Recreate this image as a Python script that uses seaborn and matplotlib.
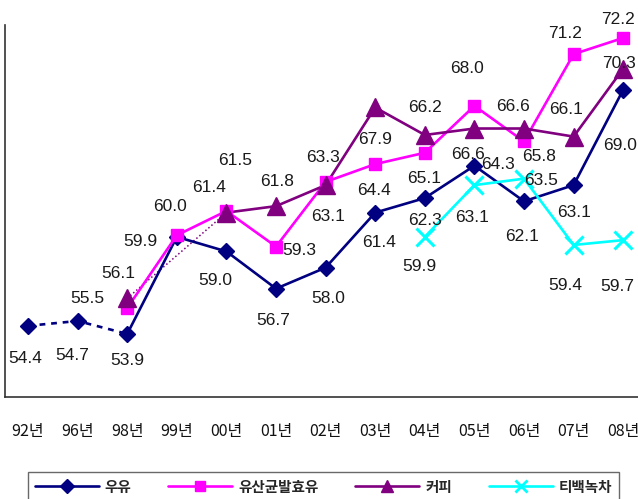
import numpy as np
import pandas as pd
import seaborn as sns
import matplotlib.pyplot as plt
from matplotlib.lines import Line2D

# ---- data ----
years = ["92년", "96년", "98년", "99년", "00년", "01년", "02년",
         "03년", "04년", "05년", "06년", "07년", "08년"]
milk = [54.4, 54.7, 53.9, 59.9, 59.0, 56.7, 58.0, 61.4, 62.3, 64.3, 62.1, 63.1, 69.0]
yogurt = [np.nan, np.nan, 55.5, 60.0, 61.5, 59.3, 63.3, 64.4, 65.1, 68.0, 65.8, 71.2, 72.2]
coffee = [np.nan, np.nan, 56.1, np.nan, 61.4, 61.8, 63.1, 67.9, 66.2, 66.6, 66.6, 66.1, 70.3]
greentea = [np.nan] * 8 + [59.9, 63.1, 63.5, 59.4, 59.7]
series_names = ["우유", "유산균발효유", "커피", "티백녹차"]

# label offsets in pixels (dx right, dy down), one per point
milk_off = [(-3, 33), (-5, 35), (0, 27), (-36, 5), (-11, 29), (-3, 32), (3, 31),
            (4, 30), (0, 22), (24, -1), (-2, 35), (0, 27), (-3, 56)]
yogurt_off = [None, None, (-40, -10), (-7, -29), (9, -50), (23, 4), (-3, -24),
              (-1, 26), (-1, 26), (-7, -37), (15, 15), (-9, -21), (-5, -18)]
coffee_off = [None, None, (-9, -25), None, (-17, -25), (1, -25), (2, 31),
              (0, 32), (0, -27), (-6, 26), (-11, -22), (-8, -27), (-4, -5)]
tea_off = [None] * 8 + [(-5, 30), (-2, 32), (17, 2), (-8, 41), (-6, 46)]

colors = {"우유": "#000080", "유산균발효유": "#FF00FF", "커피": "#800080", "티백녹차": "#00FFFF"}
markers = {"우유": "D", "유산균발효유": "s", "커피": "^", "티백녹차": "x"}
msizes = {"우유": 8, "유산균발효유": 8, "커피": 13, "티백녹차": 13}
leg_msizes = {"우유": 7, "유산균발효유": 6.5, "커피": 9, "티백녹차": 9}

x = np.arange(len(years))
df = pd.DataFrame({"x": x, "우유": milk, "유산균발효유": yogurt,
                   "커피": coffee, "티백녹차": greentea})

sns.set_theme(style="white")
plt.rcParams["font.family"] = ["Liberation Sans", "DejaVu Sans"]

fig = plt.figure(figsize=(6.38, 4.99), dpi=100)
ax = fig.add_axes([5 / 638, 102 / 499, 640 / 638, 372 / 499])

lw = 1.9

# dashed connector for early milk years, dotted connector for coffee 98->00
early = df[df["x"] <= 2]
sns.lineplot(x=early["x"], y=early["우유"], ax=ax, color=colors["우유"],
             lw=lw, linestyle=(0, (2.2, 2.2)), sort=False, legend=False)
cof = df[["x", "커피"]].dropna()
sns.lineplot(x=cof["x"].iloc[:2], y=cof["커피"].iloc[:2], ax=ax, color=colors["커피"],
             lw=1.1, linestyle=(0, (1, 1.6)), sort=False, legend=False)

segments = {
    "우유": df[df["x"] >= 2][["x", "우유"]],
    "유산균발효유": df[["x", "유산균발효유"]].dropna(),
    "커피": cof.iloc[1:],
    "티백녹차": df[["x", "티백녹차"]].dropna(),
}
for name in series_names:
    seg = segments[name]
    sns.lineplot(x=seg["x"], y=seg[name], ax=ax, color=colors[name], lw=lw,
                 sort=False, legend=False)

# markers on all points
for name in series_names:
    seg = df[["x", name]].dropna()
    mew = 2.2 if name == "티백녹차" else 1
    ax.plot(seg["x"], seg[name], linestyle="none", marker=markers[name],
            ms=msizes[name], color=colors[name], mec=colors[name], mew=mew, zorder=4)

# data labels
for vals, offs in [(milk, milk_off), (yogurt, yogurt_off),
                   (coffee, coffee_off), (greentea, tea_off)]:
    for xi, v, o in zip(x, vals, offs):
        if o is None or np.isnan(v):
            continue
        ax.annotate(f"{v:.1f}", (xi, v), xytext=(o[0], -o[1]),
                    textcoords="offset pixels", ha="center", va="center",
                    fontsize=12.5, color="#1a1a1a", zorder=6)

ax.set_xlim(-0.464, -0.464 + 640 / 49.6)
ax.set_ylim(50, 73)
ax.set_yticks([])
ax.set_xticks(x)
ax.set_xticklabels(years, family=["Noto Sans CJK KR", "DejaVu Sans"],
                   fontsize=11.5, color="#111111")
ax.tick_params(axis="x", length=0, pad=19)
ax.set_xlabel("")
ax.set_ylabel("")
for side in ["top", "right"]:
    ax.spines[side].set_visible(False)
for side in ["left", "bottom"]:
    ax.spines[side].set_color("#333333")
    ax.spines[side].set_linewidth(1.2)

handles = [Line2D([], [], color=colors[n], lw=lw, marker=markers[n],
                  ms=leg_msizes[n], mew=2 if n == "티백녹차" else 1)
           for n in series_names]
leg = fig.legend(handles, series_names, loc="upper left", ncol=4, mode="expand",
                 bbox_to_anchor=(28 / 638, 0, 591 / 638, 1 - 472 / 499),
                 borderaxespad=0,
                 prop={"family": ["Noto Sans CJK KR", "DejaVu Sans"],
                       "size": 10.5, "weight": "bold"},
                 handlelength=4.4, handletextpad=0.4, borderpad=0.45,
                 fancybox=False, frameon=True)
leg.get_frame().set_edgecolor("#444444")
leg.get_frame().set_linewidth(1.0)

fig.savefig("out.png", dpi=100)
